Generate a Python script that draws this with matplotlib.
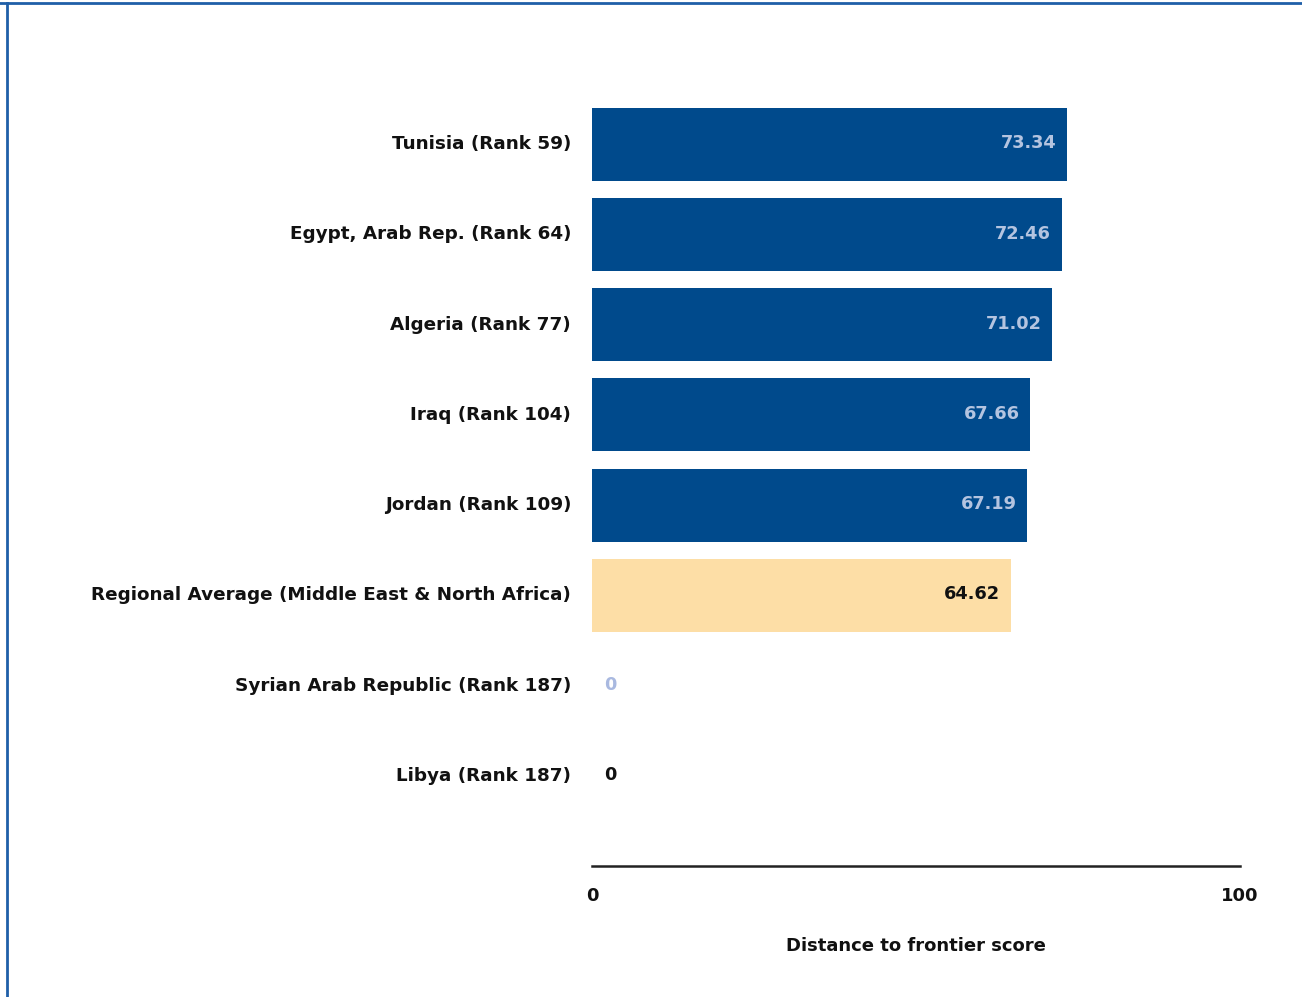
import matplotlib
matplotlib.use('Agg')
import matplotlib.pyplot as plt
from matplotlib.lines import Line2D

# data
labels = ['Tunisia (Rank 59)', 'Egypt, Arab Rep. (Rank 64)', 'Algeria (Rank 77)',
          'Iraq (Rank 104)', 'Jordan (Rank 109)',
          'Regional Average (Middle East & North Africa)',
          'Syrian Arab Republic (Rank 187)', 'Libya (Rank 187)']
scores = [73.34, 72.46, 71.02, 67.66, 67.19, 64.62, 0, 0]
value_text = ['73.34', '72.46', '71.02', '67.66', '67.19', '64.62', '0', '0']
is_regional = [False, False, False, False, False, True, False, False]
label_colors = ['#b4c4e0'] * 5 + ['#111111', '#a9b9e0', '#111111']

blue = '#004a8c'
peach = '#fddea6'

fig = plt.figure(figsize=(13.02, 9.97), dpi=100)
ax = fig.add_axes([592 / 1302, 1 - 866 / 997, 648 / 1302, 812 / 997])

ypos = list(range(len(labels)))
colors = [peach if r else blue for r in is_regional]
ax.barh(ypos, scores, height=0.81, color=colors)

for y, v, t, c in zip(ypos, scores, value_text, label_colors):
    if v > 5:
        ax.text(v - 1.6, y - 0.01, t, ha='right', va='center', fontsize=12.8,
                color=c, fontweight='bold')
    else:
        ax.text(2.9, y - 0.01, t, ha='center', va='center', fontsize=12.8,
                color=c, fontweight='bold')

ax.set_xlim(0, 100)
ax.set_ylim(8, -1)
ax.set_yticks(ypos)
ax.set_yticklabels(labels, fontsize=13.2, fontweight='bold', color='#111111',
                   va='center')
ax.set_xticks([0, 100])
ax.set_xticklabels(['0', '100'], fontsize=13, fontweight='bold', color='#111111')
ax.tick_params(axis='y', length=0, pad=15)
ax.tick_params(axis='x', length=0, pad=15)
for s in ['top', 'right', 'left']:
    ax.spines[s].set_visible(False)
ax.spines['bottom'].set_color('#222222')
ax.spines['bottom'].set_linewidth(1.8)
ax.set_xlabel('Distance to frontier score', fontsize=13, fontweight='bold',
              color='#111111', labelpad=23)

# frame lines of the page
fig.add_artist(Line2D([0, 1], [1 - 3 / 997] * 2, color='#1f5fa8', lw=2,
                      transform=fig.transFigure))
fig.add_artist(Line2D([7 / 1302] * 2, [0, 1 - 3 / 997], color='#1f5fa8', lw=2,
                      transform=fig.transFigure))

plt.savefig('out.png')
